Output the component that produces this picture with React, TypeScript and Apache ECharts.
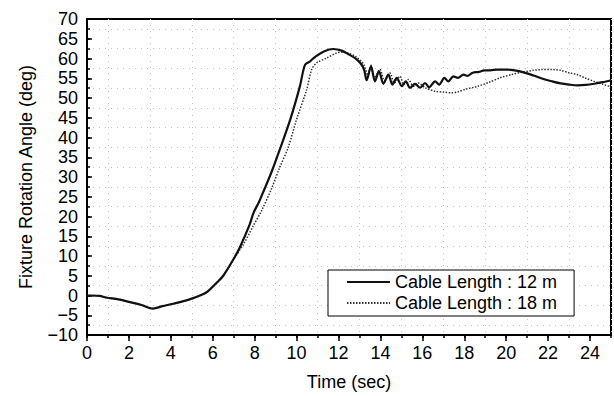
import React, { useEffect, useRef } from "react";
import * as echarts from "echarts";

// Fixture rotation response for the 12 m cable: [time (s), angle (deg)]
const cable12: [number, number][] = [
  [0, 0], [0.6, -0.1], [0.9, -0.5], [1.5, -1.0], [2.0, -1.6], [2.6, -2.4], [3.15, -3.3],
  [3.6, -2.7], [4.1, -2.1], [4.7, -1.3], [5.1, -0.6], [5.45, 0.1], [5.75, 1.0], [6.2, 3.3],
  [6.5, 5.0], [7.0, 9.3], [7.3, 12.3], [7.75, 17.8], [7.95, 21.0], [8.2, 23.6], [8.4, 26.1],
  [8.8, 31.2], [9.2, 37.0], [9.7, 44.6], [10.16, 53.0], [10.4, 58.4], [10.65, 59.3],
  [10.9, 60.5], [11.3, 61.8], [11.75, 62.4], [12.15, 62.0], [12.5, 61.0], [12.79, 60.1],
  [13.05, 58.8], [13.22, 57.2], [13.34, 54.5], [13.55, 58.0], [13.74, 54.2], [13.93, 56.8],
  [14.14, 53.6], [14.38, 55.9], [14.57, 53.4], [14.78, 55.1], [15.02, 53.0], [15.21, 54.2],
  [15.41, 52.6], [15.65, 53.6], [15.89, 52.6], [16.13, 53.8], [16.32, 52.7], [16.61, 54.2],
  [16.8, 53.4], [17.05, 55.1], [17.24, 54.2], [17.48, 55.5], [17.69, 55.1], [17.96, 55.9],
  [18.15, 55.6], [18.4, 56.4], [18.7, 56.6], [18.95, 57.0], [19.24, 57.0], [19.56, 57.2],
  [20.03, 57.2], [20.4, 57.0], [20.83, 56.5], [21.3, 55.7], [21.78, 54.8], [22.2, 54.2],
  [22.6, 53.7], [23.0, 53.4], [23.4, 53.2], [23.8, 53.3], [24.2, 53.6], [24.6, 54.0],
  [25, 54.5],
];

// Fixture rotation response for the 18 m cable: [time (s), angle (deg)]
const cable18: [number, number][] = [
  [0, 0], [0.6, -0.1], [0.9, -0.5], [1.5, -1.0], [2.0, -1.6], [2.6, -2.4], [3.15, -3.3],
  [3.6, -2.7], [4.1, -2.1], [4.7, -1.3], [5.1, -0.6], [5.45, 0.1], [5.75, 1.0], [6.2, 3.3],
  [6.5, 5.0], [7.0, 9.2], [7.5, 13.3], [7.9, 17.3], [8.33, 21.5], [8.8, 27.0], [9.2, 32.5],
  [9.6, 37.5], [10.0, 44.6], [10.48, 52.1], [10.72, 57.2], [10.96, 58.9], [11.43, 60.1],
  [11.91, 61.4], [12.2, 61.6], [12.5, 61.3], [12.87, 60.3], [13.2, 58.5], [13.4, 55.8],
  [13.55, 58.3], [13.71, 55.1], [13.98, 57.2], [14.19, 54.4], [14.46, 56.3], [14.66, 53.8],
  [14.94, 55.5], [15.1, 53.4], [15.33, 54.7], [15.57, 53.0], [15.81, 53.8], [16.13, 52.6],
  [16.61, 51.7], [17.0, 51.5], [17.4, 51.3], [17.72, 51.6], [18.04, 52.2], [18.6, 52.9],
  [19.2, 54.0], [19.7, 55.1], [20.3, 56.0], [20.83, 56.6], [21.3, 57.0], [21.7, 57.2],
  [22.2, 57.2], [22.6, 57.0], [23.0, 56.4], [23.4, 55.9], [23.8, 55.0], [24.2, 54.2],
  [24.6, 53.5], [25, 52.8],
];

const seriesNames = ["Cable Length : 12 m", "Cable Length : 18 m"];
const xMajorTicks = [0, 2, 4, 6, 8, 10, 12, 14, 16, 18, 20, 22, 24];
const yMajorTicks = [-10, -5, 0, 5, 10, 15, 20, 25, 30, 35, 40, 45, 50, 55, 60, 65, 70];

const FONT = "'Liberation Sans', Arial, Helvetica, sans-serif";

const isMultiple = (v: number, step: number) => {
  const r = Math.abs(v / step - Math.round(v / step));
  return r < 1e-6;
};

export default function App() {
  const ref = useRef<HTMLDivElement>(null);

  useEffect(() => {
    if (!ref.current) return;
    const chart = echarts.init(ref.current, undefined, { renderer: "svg" });

    // faint dotted grid on the odd (minor) positions only
    const gridDots = {
      show: true,
      lineStyle: { color: ["transparent", "#c4c4c4"], width: 1, type: [1, 5] as any },
    };

    chart.setOption({
      animation: false,
      backgroundColor: "#fff",
      textStyle: { fontFamily: FONT, color: "#000" },
      grid: {
        left: 87,
        right: 3,
        top: 19,
        bottom: 59,
        show: true,
        borderColor: "#000",
        borderWidth: 2,
        backgroundColor: "transparent",
      },
      legend: {
        left: 328,
        top: 270,
        orient: "vertical",
        padding: [3, 17, 4, 18],
        itemGap: 3,
        itemWidth: 43,
        itemHeight: 14,
        borderColor: "#000",
        borderWidth: 1,
        backgroundColor: "#fff",
        itemStyle: { opacity: 0 },
        textStyle: { fontFamily: FONT, fontSize: 18, color: "#000" },
        data: seriesNames,
      },
      xAxis: [
        {
          type: "value",
          min: 0,
          max: 25,
          interval: 1,
          name: "Time (sec)",
          nameLocation: "middle",
          nameGap: 38,
          nameTextStyle: { fontFamily: FONT, fontSize: 18, color: "#000" },
          axisLine: { show: true, onZero: false, lineStyle: { color: "#000", width: 2 } },
          axisTick: { show: true, inside: false, length: 3, lineStyle: { color: "#000", width: 1.5 } },
          axisLabel: {
            fontFamily: FONT,
            fontSize: 18,
            color: "#000",
            margin: 9,
            formatter: (v: number) => (xMajorTicks.includes(v) ? String(v) : ""),
          },
          splitLine: gridDots,
        },
        {
          type: "value",
          min: 0,
          max: 25,
          interval: 2,
          position: "bottom",
          axisLine: { show: false, onZero: false },
          axisTick: {
            show: true,
            inside: false,
            length: 6,
            customValues: xMajorTicks,
            lineStyle: { color: "#000", width: 1.5 },
          },
          axisLabel: { show: false },
          splitLine: { show: false },
        },
      ],
      yAxis: [
        {
          type: "value",
          min: -10,
          max: 70,
          interval: 2.5,
          name: "Fixture Rotation Angle (deg)",
          nameLocation: "middle",
          nameGap: 52,
          nameTextStyle: { fontFamily: FONT, fontSize: 18, color: "#000" },
          axisLine: { show: true, onZero: false, lineStyle: { color: "#000", width: 2 } },
          axisTick: { show: true, inside: true, length: 3, lineStyle: { color: "#000", width: 1.5 } },
          axisLabel: {
            fontFamily: FONT,
            fontSize: 18,
            color: "#000",
            margin: 9,
            formatter: (v: number) =>
              isMultiple(v, 5) ? String(Math.round(v)).replace("-", "\u2212") : "",
          },
          splitLine: gridDots,
        },
        {
          type: "value",
          min: -10,
          max: 70,
          interval: 5,
          position: "left",
          axisLine: { show: false, onZero: false },
          axisTick: {
            show: true,
            inside: true,
            length: 5,
            customValues: yMajorTicks,
            lineStyle: { color: "#000", width: 1.5 },
          },
          axisLabel: { show: false },
          splitLine: { show: false },
        },
      ],
      series: [
        {
          name: seriesNames[0],
          type: "line",
          data: cable12,
          xAxisIndex: 0,
          yAxisIndex: 0,
          symbol: "none",
          smooth: 0.3,
          lineStyle: { color: "#111", width: 2.2, type: "solid" },
          itemStyle: { color: "#111" },
          z: 3,
        },
        {
          name: seriesNames[1],
          type: "line",
          data: cable18,
          xAxisIndex: 0,
          yAxisIndex: 0,
          symbol: "none",
          smooth: 0.3,
          lineStyle: { color: "#333", width: 1.5, type: [1.5, 1.5] },
          itemStyle: { color: "#333" },
          z: 2,
        },
      ],
    });

    return () => chart.dispose();
  }, []);

  return (
    <div
      ref={ref}
      style={{ position: "absolute", left: 0, top: 0, width: 614, height: 396 }}
    />
  );
}
